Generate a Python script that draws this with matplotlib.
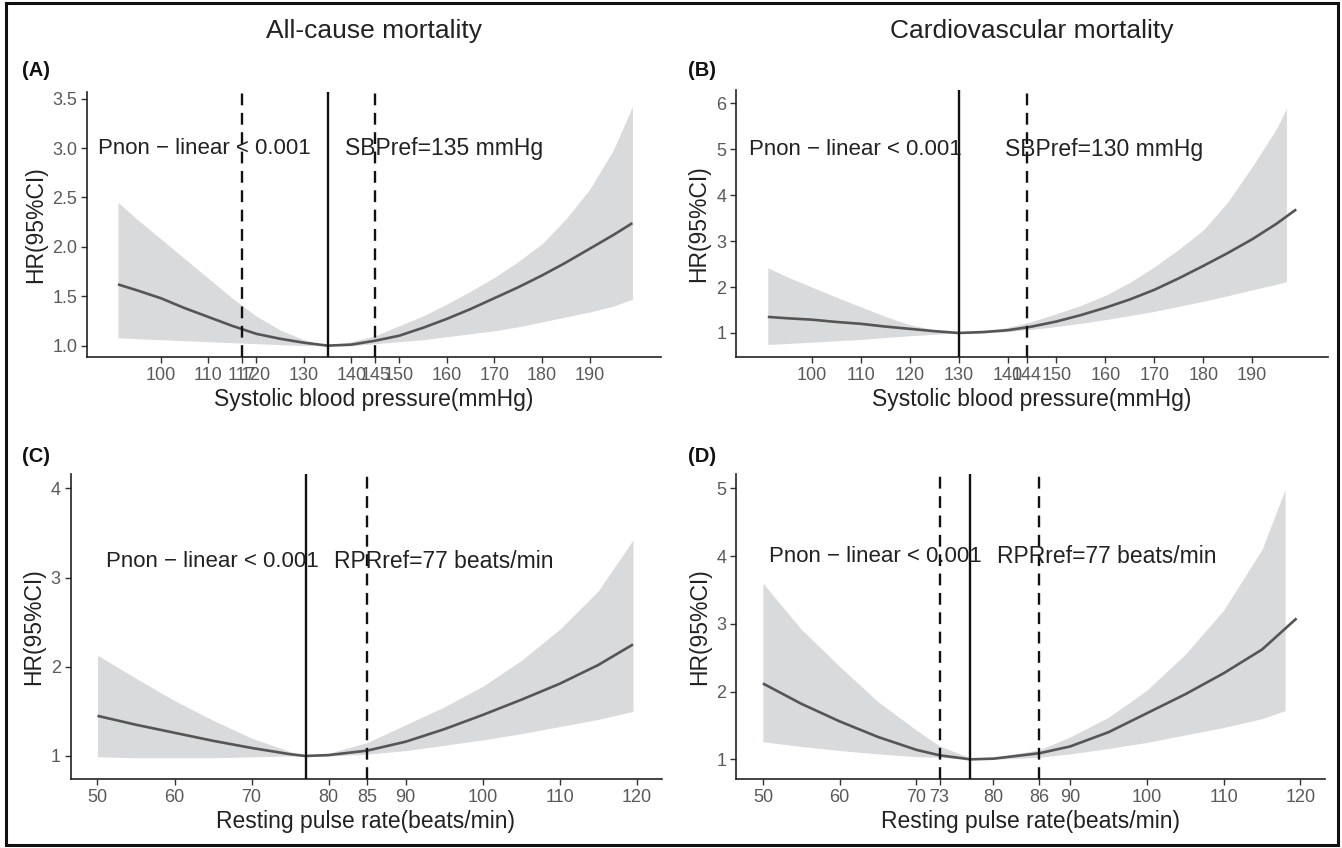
import matplotlib
matplotlib.use("Agg")
import matplotlib.pyplot as plt
from matplotlib.patches import Rectangle

plt.rcParams['font.family'] = ['Liberation Sans', 'DejaVu Sans']

# ---------------- data ----------------
# Panel A: all-cause mortality vs SBP
a_x = [91, 95, 100, 105, 110, 115, 120, 125, 130, 135, 140, 145, 150, 155, 160, 165, 170, 175, 180, 185, 190, 195, 199]
a_hr = [1.62, 1.56, 1.48, 1.38, 1.29, 1.20, 1.12, 1.07, 1.03, 1.00, 1.01, 1.05, 1.10, 1.18, 1.27, 1.37, 1.48, 1.59, 1.71, 1.84, 1.98, 2.12, 2.24]
a_lo = [1.08, 1.07, 1.06, 1.05, 1.04, 1.03, 1.02, 1.01, 1.00, 1.00, 1.00, 1.02, 1.04, 1.06, 1.09, 1.12, 1.15, 1.19, 1.24, 1.29, 1.34, 1.40, 1.47]
a_hi = [2.45, 2.28, 2.08, 1.88, 1.68, 1.48, 1.30, 1.16, 1.06, 1.00, 1.04, 1.10, 1.20, 1.30, 1.42, 1.55, 1.69, 1.85, 2.03, 2.28, 2.58, 2.98, 3.42]
a_ref, a_cuts = 135, [117, 145]
a_xticks = [100, 110, 117, 120, 130, 140, 145, 150, 160, 170, 180, 190]
a_yticks = [1.0, 1.5, 2.0, 2.5, 3.0, 3.5]

# Panel B: cardiovascular mortality vs SBP
b_x = [91, 95, 100, 105, 110, 115, 120, 125, 130, 135, 140, 145, 150, 155, 160, 165, 170, 175, 180, 185, 190, 195, 199]
b_hr = [1.35, 1.32, 1.29, 1.24, 1.20, 1.14, 1.09, 1.04, 1.00, 1.02, 1.06, 1.14, 1.25, 1.39, 1.55, 1.73, 1.94, 2.19, 2.46, 2.74, 3.04, 3.38, 3.69]
b_band_x = [91, 95, 100, 105, 110, 115, 120, 125, 130, 135, 140, 145, 150, 155, 160, 165, 170, 175, 180, 185, 190, 195, 197]
b_lo = [0.75, 0.77, 0.80, 0.83, 0.86, 0.90, 0.94, 0.97, 1.00, 1.00, 1.03, 1.08, 1.14, 1.21, 1.29, 1.38, 1.47, 1.58, 1.69, 1.81, 1.94, 2.06, 2.12]
b_hi = [2.42, 2.22, 2.00, 1.78, 1.57, 1.36, 1.18, 1.07, 1.00, 1.03, 1.12, 1.25, 1.42, 1.60, 1.82, 2.10, 2.44, 2.82, 3.24, 3.85, 4.62, 5.45, 5.89]
b_ref, b_cuts = 130, [144]
b_xticks = [100, 110, 120, 130, 140, 144, 150, 160, 170, 180, 190]
b_yticks = [1, 2, 3, 4, 5, 6]

# Panel C: all-cause mortality vs resting pulse rate
c_x = [50, 55, 60, 65, 70, 75, 77, 80, 85, 90, 95, 100, 105, 110, 115, 119.5]
c_hr = [1.45, 1.35, 1.26, 1.17, 1.09, 1.02, 1.00, 1.01, 1.06, 1.16, 1.30, 1.46, 1.63, 1.81, 2.02, 2.25]
c_lo = [0.99, 0.98, 0.98, 0.98, 0.99, 1.00, 1.00, 1.00, 1.02, 1.06, 1.12, 1.18, 1.25, 1.33, 1.41, 1.50]
c_hi = [2.13, 1.87, 1.62, 1.40, 1.20, 1.05, 1.00, 1.03, 1.15, 1.35, 1.55, 1.78, 2.07, 2.42, 2.85, 3.42]
c_ref, c_cuts = 77, [85]
c_xticks = [50, 60, 70, 80, 85, 90, 100, 110, 120]
c_yticks = [1, 2, 3, 4]

# Panel D: cardiovascular mortality vs resting pulse rate
d_x = [50, 55, 60, 65, 70, 73, 77, 80, 86, 90, 95, 100, 105, 110, 115, 119.5]
d_hr = [2.12, 1.82, 1.56, 1.33, 1.14, 1.06, 1.00, 1.01, 1.09, 1.19, 1.40, 1.68, 1.96, 2.27, 2.62, 3.08]
d_band_x = [50, 55, 60, 65, 70, 73, 77, 80, 86, 90, 95, 100, 105, 110, 115, 118]
d_lo = [1.26, 1.19, 1.13, 1.08, 1.04, 1.03, 1.00, 1.00, 1.03, 1.08, 1.16, 1.25, 1.36, 1.47, 1.60, 1.72]
d_hi = [3.60, 2.92, 2.37, 1.85, 1.43, 1.20, 1.02, 1.03, 1.14, 1.33, 1.62, 2.02, 2.55, 3.20, 4.10, 4.98]
d_ref, d_cuts = 77, [73, 86]
d_xticks = [50, 60, 70, 73, 80, 86, 90, 100, 110, 120]
d_yticks = [1, 2, 3, 4, 5]

col_titles = ["All-cause mortality", "Cardiovascular mortality"]
panel_tags = ["(A)", "(B)", "(C)", "(D)"]
sbp_label = "Systolic blood pressure(mmHg)"
rpr_label = "Resting pulse rate(beats/min)"
y_label = "HR(95%CI)"
p_text = "Pnon − linear < 0.001"
ref_texts = ["SBPref=135 mmHg", "SBPref=130 mmHg", "RPRref=77 beats/min", "RPRref=77 beats/min"]

# ---------------- figure ----------------
W, H = 1342, 848
fig = plt.figure(figsize=(W / 100, H / 100), dpi=100)
fig.patch.set_facecolor('white')


def rect(l, r, t, b):
    return [l / W, 1 - b / H, (r - l) / W, (b - t) / H]


panels = [
    dict(pos=rect(87, 661, 92, 357), x=a_x, hr=a_hr, bx=a_x, lo=a_lo, hi=a_hi, ref=a_ref, cuts=a_cuts,
         xt=a_xticks, yt=a_yticks, xl=(84.5, 205), yl=(0.885, 3.567), xlabel=sbp_label,
         ytl=["1.0", "1.5", "2.0", "2.5", "3.0", "3.5"], tx=(109.2, 159.4), ty=3.0),
    dict(pos=rect(736, 1328, 90, 357), x=b_x, hr=b_hr, bx=b_band_x, lo=b_lo, hi=b_hi, ref=b_ref, cuts=b_cuts,
         xt=b_xticks, yt=b_yticks, xl=(84.5, 205.5), yl=(0.477, 6.29), xlabel=sbp_label,
         ytl=None, tx=(109.0, 159.7), ty=5.0),
    dict(pos=rect(70.5, 661.5, 474, 779), x=c_x, hr=c_hr, bx=c_x, lo=c_lo, hi=c_hi, ref=c_ref, cuts=c_cuts,
         xt=c_xticks, yt=c_yticks, xl=(46.5, 123.2), yl=(0.742, 4.16), xlabel=rpr_label,
         ytl=None, tx=(64.9, 94.9), ty=3.18),
    dict(pos=rect(736, 1325, 474, 779), x=d_x, hr=d_hr, bx=d_band_x, lo=d_lo, hi=d_hi, ref=d_ref, cuts=d_cuts,
         xt=d_xticks, yt=d_yticks, xl=(46.5, 123.2), yl=(0.71, 5.21), xlabel=rpr_label,
         ytl=None, tx=(64.6, 94.8), ty=4.0),
]

tick_col = '#5a5a5a'
for i, p in enumerate(panels):
    ax = fig.add_axes(p['pos'])
    ax.fill_between(p['bx'], p['lo'], p['hi'], color='#d9dadc', lw=0, zorder=1)
    ax.plot(p['x'], p['hr'], color='#555555', lw=1.9, zorder=2, solid_capstyle='butt')
    ax.axvline(p['ref'], color='#111111', lw=1.7, zorder=3)
    for c in p['cuts']:
        ax.axvline(c, color='#111111', lw=1.7, ls=(0, (5.0, 3.2)), zorder=3)
    ax.text(p['tx'][0], p['ty'], p_text, ha='center', va='center', fontsize=16, color='#222222', zorder=4)
    ax.text(p['tx'][1], p['ty'], ref_texts[i], ha='center', va='center', fontsize=16.5, color='#222222', zorder=4)

    ax.set_xlim(*p['xl'])
    ax.set_ylim(*p['yl'])
    ax.set_xticks(p['xt'])
    ax.set_xticklabels([str(v) for v in p['xt']])
    ax.set_yticks(p['yt'])
    if p['ytl'] is not None:
        ax.set_yticklabels(p['ytl'])
    for s in ['top', 'right']:
        ax.spines[s].set_visible(False)
    for s in ['left', 'bottom']:
        ax.spines[s].set_color('#222222')
        ax.spines[s].set_linewidth(1.2)
    ax.tick_params(axis='both', direction='out', length=4, width=1.0, color='#333333',
                   labelsize=13, labelcolor=tick_col, pad=3)
    ax.set_xlabel(p['xlabel'], fontsize=16.5, color='#222222', labelpad=3)
    ax.set_ylabel(y_label, fontsize=16.5, color='#222222', labelpad=4)

# column titles
fig.text(374 / W, 1 - 31 / H, col_titles[0], ha='center', va='center', fontsize=19, color='#222222')
fig.text(1032 / W, 1 - 31 / H, col_titles[1], ha='center', va='center', fontsize=19, color='#222222')

# panel tags
tag_pos = [(22, 70), (688, 70), (22, 456), (688, 456)]
for t, (px, py) in zip(panel_tags, tag_pos):
    fig.text(px / W, 1 - py / H, t, ha='left', va='center', fontsize=14.5, fontweight='bold', color='#111111')

# outer frame
fig.patches.append(Rectangle((6 / W, 3 / H), (1338 - 6) / W, (845 - 3) / H, transform=fig.transFigure,
                             fill=False, lw=2.2, ec='#111111'))

fig.savefig('out.png', dpi=100)
